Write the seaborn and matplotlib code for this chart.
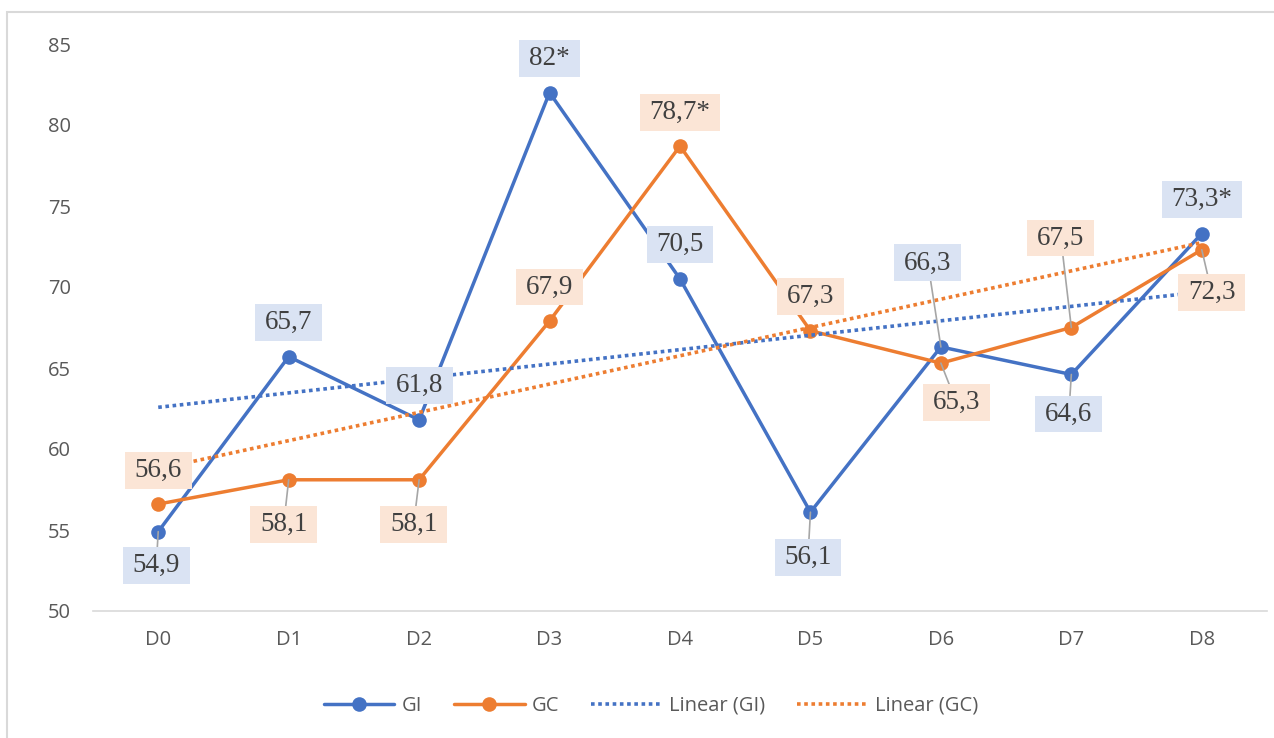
import numpy as np
import pandas as pd
import matplotlib
matplotlib.use("Agg")
import matplotlib.pyplot as plt
import seaborn as sns
from matplotlib.path import Path
from matplotlib.patches import Rectangle
from matplotlib.lines import Line2D

# ---- data ----
days = ["D0", "D1", "D2", "D3", "D4", "D5", "D6", "D7", "D8"]
gi = [54.9, 65.7, 61.8, 82.0, 70.5, 56.1, 66.3, 64.6, 73.3]
gc = [56.6, 58.1, 58.1, 67.9, 78.7, 67.3, 65.3, 67.5, 72.3]
gi_marks = ["", "", "", "*", "", "", "", "", "*"]
gc_marks = ["", "", "", "", "*", "", "", "", ""]
y_ticks = [50, 55, 60, 65, 70, 75, 80, 85]

# label placement (pixel offsets from the point: right, down)
gi_label_pos = [(-2, 34), (0, -34), (0, -34), (0, -34), (0, -34),
                (-2.5, 45.5), (-13, -84), (-2.5, 39.5), (0, -34)]
gc_label_pos = [(0, -34), (-5, 45), (-5.5, 45), (0, -34), (0, -34),
                (0, -34), (15.5, 39.5), (-10.5, -89.5), (10, 43)]
DEFAULT_POS = (0, -34)

BLUE = "#4472c4"
ORANGE = "#ed7d31"
BLUE_BOX = "#dae3f3"
ORANGE_BOX = "#fbe5d6"
TEXT = "#595959"

sns.set_theme(style="white")
plt.rcParams["font.family"] = ["Open Sans", "DejaVu Sans"]

fig = plt.figure(figsize=(12.74, 7.38), dpi=100)
W, H = 1274, 738
ax = fig.add_axes([93 / W, 1 - 611 / H, (1267 - 93) / W, (611 - 44) / H])

# chart frame
fig.patches.append(Rectangle((7 / W, -0.05), 1.2, 1 - 12 / H + 0.05,
                             transform=fig.transFigure, fill=False,
                             ec="#d9d9d9", lw=1.5, zorder=0))

df = pd.DataFrame({
    "day": days * 2,
    "value": gi + gc,
    "series": ["GI"] * len(days) + ["GC"] * len(days),
})
sns.lineplot(data=df, x="day", y="value", hue="series",
             palette={"GI": BLUE, "GC": ORANGE}, marker="o",
             markersize=10.5, markeredgewidth=0, linewidth=2.5,
             sort=False, legend=False, ax=ax, zorder=2)

# linear trend lines
pos = np.arange(len(days))
dot = (0, (1, 1))
for vals, col in [(gi, BLUE), (gc, ORANGE)]:
    coef = np.polyfit(pos, vals, 1)
    ax.plot(pos, np.polyval(coef, pos), color=col, lw=2.6,
            linestyle=dot, dash_capstyle="butt", zorder=3)


def label_box(x0, y0, width, height, mutation_size):
    px = 0.36 * mutation_size
    py = 0.22 * mutation_size
    x0, y0 = x0 - px, y0 - py
    x1, y1 = x0 + width + 2 * px, y0 + height + 2 * py
    return Path([(x0, y0), (x1, y0), (x1, y1), (x0, y1), (x0, y0)],
                closed=True)


def fmt(v, mark):
    return f"{v:g}".replace(".", ",") + mark


for vals, marks, offs, box in [(gi, gi_marks, gi_label_pos, BLUE_BOX),
                               (gc, gc_marks, gc_label_pos, ORANGE_BOX)]:
    for i, (v, m, off) in enumerate(zip(vals, marks, offs)):
        arrow = None
        if tuple(off) != DEFAULT_POS:
            arrow = dict(arrowstyle="-", color="#a6a6a6", lw=1.2,
                         shrinkA=0, shrinkB=0)
        ax.annotate(fmt(v, m), xy=(i, v), xytext=(off[0], -off[1]),
                    textcoords="offset pixels", ha="center", va="center",
                    fontsize=19.5, family="Liberation Serif", color="#404040",
                    bbox=dict(boxstyle=label_box, fc=box, ec="none"),
                    arrowprops=arrow, zorder=5)

ax.set_xlim(-0.5, len(days) - 0.5)
ax.set_ylim(50, 85)
ax.set_yticks(y_ticks)
ax.set_xlabel("")
ax.set_ylabel("")
for s in ["top", "right", "left"]:
    ax.spines[s].set_visible(False)
ax.spines["bottom"].set_color("#d9d9d9")
ax.spines["bottom"].set_linewidth(1.2)
ax.tick_params(axis="y", length=0, pad=16, labelsize=14.5, labelcolor=TEXT)
ax.tick_params(axis="x", length=0, pad=14, labelsize=14.5, labelcolor=TEXT)
ax.grid(False)

handles = [
    Line2D([], [], color=BLUE, lw=2.5, marker="o", markersize=10.5, mew=0),
    Line2D([], [], color=ORANGE, lw=2.5, marker="o", markersize=10.5, mew=0),
    Line2D([], [], color=BLUE, lw=2.6, linestyle=dot, dash_capstyle="butt"),
    Line2D([], [], color=ORANGE, lw=2.6, linestyle=dot, dash_capstyle="butt"),
]
fig.legend(handles, ["GI", "GC", "Linear (GI)", "Linear (GC)"],
           loc="center", bbox_to_anchor=(0.511, 1 - 706 / H), ncol=4,
           frameon=False, fontsize=14.5, labelcolor=TEXT,
           handlelength=3.5, handletextpad=0.35, columnspacing=1.6)

fig.savefig("out.png", dpi=100)
